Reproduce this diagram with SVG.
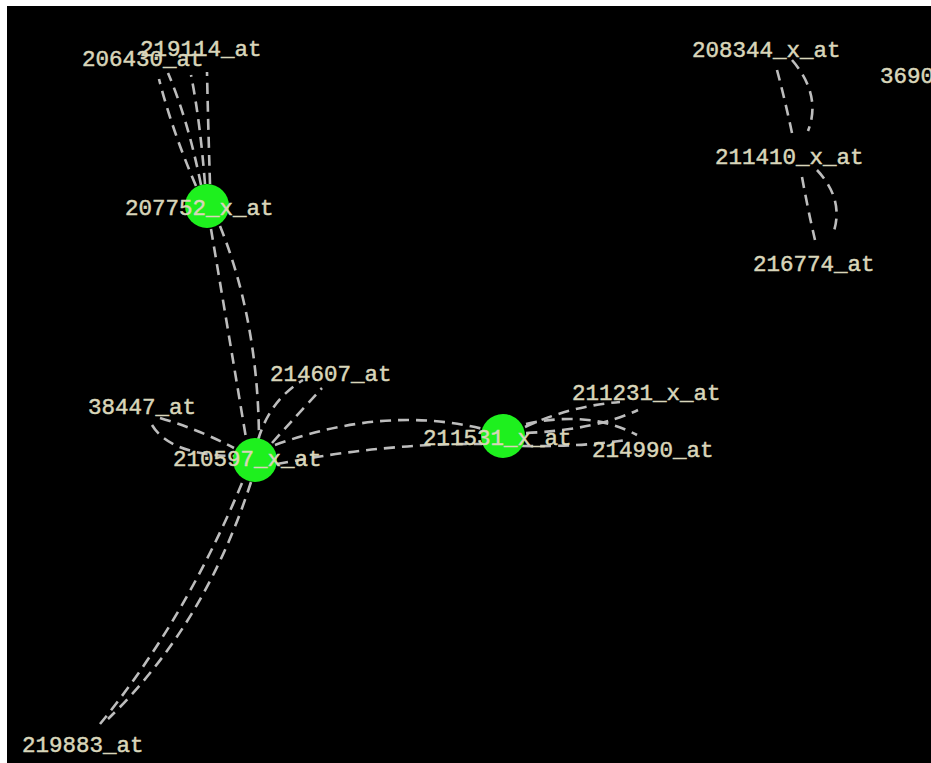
<svg xmlns="http://www.w3.org/2000/svg" width="931" height="763" viewBox="0 0 931 763">
  <style>
    .edge { fill: none; stroke: #bdbdbd; stroke-width: 2.6; stroke-dasharray: 11 7; }
    .hub { fill: #1ef01e; }
    .label { font-family: "Liberation Mono", "DejaVu Sans Mono", monospace; font-size: 22.5px; fill: #d9d6ba; stroke: #d9d6ba; stroke-width: 0.5; }
  </style>
  <rect x="0" y="0" width="931" height="763" fill="#ffffff"/>
  <rect x="7" y="6" width="924" height="757" fill="#000000"/>

  <g id="connectors">
    <!-- 207752_x_at to 206430_at / 219114_at -->
    <path class="edge" d="M196,186 Q172,130 159,79"/>
    <path class="edge" d="M201,185 Q188,120 168,73"/>
    <path class="edge" d="M205,184 Q200,120 191,75"/>
    <path class="edge" d="M210,184 Q208,120 207,72"/>
    <!-- 207752_x_at to 210597_x_at -->
    <path class="edge" d="M211,229 Q228,330 246,438"/>
    <path class="edge" d="M220,226 Q258,320 259,438"/>
    <!-- 210597_x_at to 214607_at -->
    <path class="edge" d="M258,440 Q270,400 303,380"/>
    <path class="edge" d="M272,443 Q300,412 322,388"/>
    <!-- 210597_x_at to 38447_at -->
    <path class="edge" d="M152,425 Q170,455 234,456"/>
    <path class="edge" d="M160,418 Q200,430 234,448"/>
    <!-- 210597_x_at to 211531_x_at -->
    <path class="edge" d="M275,445 Q385,405 483,429"/>
    <path class="edge" d="M277,464 Q385,443 482,444"/>
    <!-- 210597_x_at to 219883_at -->
    <path class="edge" d="M242,483 Q185,620 100,724"/>
    <path class="edge" d="M251,482 Q205,625 108,719"/>
    <!-- 211531_x_at to 211231_x_at / 214990_at -->
    <path class="edge" d="M525,427 Q570,406 620,402"/>
    <path class="edge" d="M526,433 Q595,430 638,410"/>
    <path class="edge" d="M526,424 Q590,410 637,435"/>
    <path class="edge" d="M522,446 Q580,447 626,440"/>
    <!-- 208344_x_at to 211410_x_at -->
    <path class="edge" d="M777,70 Q785,100 792,133"/>
    <path class="edge" d="M792,60 Q822,95 808,131"/>
    <!-- 211410_x_at to 216774_at -->
    <path class="edge" d="M802,177 Q808,210 815,240"/>
    <path class="edge" d="M817,170 Q845,200 833,234"/>
  </g>

  <g id="n207752_x_at">
    <circle class="hub" cx="207" cy="206" r="22"/>
    <text class="label" x="125" y="215">207752_x_at</text>
  </g>
  <g id="n210597_x_at">
    <circle class="hub" cx="255" cy="460" r="22"/>
    <text class="label" x="173" y="466">210597_x_at</text>
  </g>
  <g id="n211531_x_at">
    <circle class="hub" cx="503" cy="436" r="22"/>
    <text class="label" x="423" y="445">211531_x_at</text>
  </g>
  <g id="n219114_at"><text class="label" x="140" y="56">219114_at</text></g>
  <g id="n206430_at"><text class="label" x="82" y="66">206430_at</text></g>
  <g id="n208344_x_at"><text class="label" x="692" y="57">208344_x_at</text></g>
  <g id="n3690"><text class="label" x="880" y="83">3690</text></g>
  <g id="n211410_x_at"><text class="label" x="715" y="164">211410_x_at</text></g>
  <g id="n216774_at"><text class="label" x="753" y="271">216774_at</text></g>
  <g id="n214607_at"><text class="label" x="270" y="381">214607_at</text></g>
  <g id="n38447_at"><text class="label" x="88" y="414">38447_at</text></g>
  <g id="n211231_x_at"><text class="label" x="572" y="400">211231_x_at</text></g>
  <g id="n214990_at"><text class="label" x="592" y="457">214990_at</text></g>
  <g id="n219883_at"><text class="label" x="22" y="752">219883_at</text></g>
</svg>
